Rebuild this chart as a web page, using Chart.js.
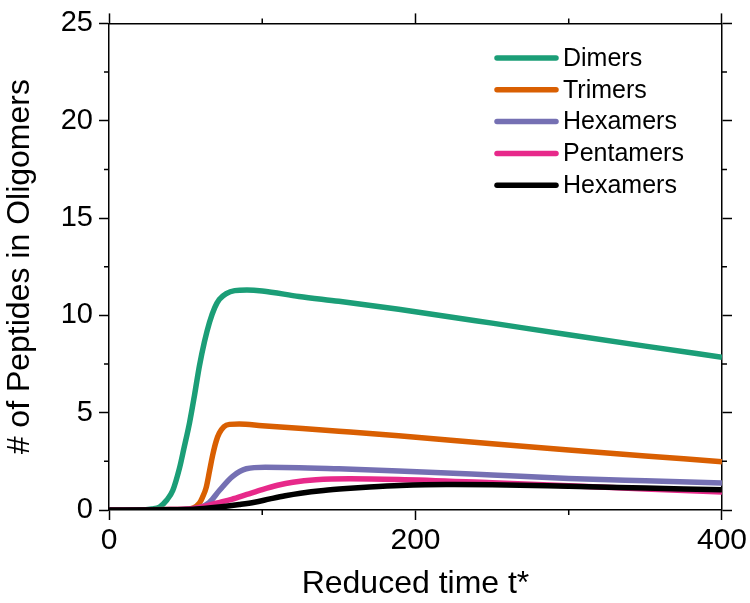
<!DOCTYPE html>
<html>
<head>
<meta charset="utf-8">
<script src="https://cdn.jsdelivr.net/npm/chart.js@4.4.1/dist/chart.umd.min.js"></script>
<style>
  html, body { margin: 0; padding: 0; background: #fff; }
  #wrap { width: 750px; height: 603px; }
</style>
</head>
<body>
<div id="wrap"><canvas id="chart" width="750" height="603"></canvas></div>
<script>
// series (t*, count)
var dimersT  = [0, 20, 28, 33, 37.6, 41.6, 46, 49, 52.6, 55.8, 59, 62.3, 65.6, 69, 72, 76.5, 82, 90, 100, 124, 150, 189, 250, 300, 350, 400];
var dimersY  = [0, 0, 0.05, 0.15, 0.5, 1.0, 2.15, 3.2, 4.5, 5.9, 7.4, 8.65, 9.65, 10.4, 10.82, 11.12, 11.27, 11.3, 11.25, 10.97, 10.72, 10.31, 9.6, 9.0, 8.42, 7.85];
var trimersT = [0, 40, 50, 55, 59, 61, 63.4, 65.6, 67.6, 70, 72, 75, 78.6, 85, 100, 150, 189, 250, 300, 350, 400];
var trimersY = [0, 0.02, 0.04, 0.1, 0.35, 0.65, 1.15, 2.0, 2.8, 3.55, 3.95, 4.28, 4.4, 4.42, 4.33, 4.05, 3.82, 3.4, 3.08, 2.78, 2.48];
var hexT     = [0, 40, 55, 60, 65.6, 72, 80.5, 89.6, 102, 150, 189, 250, 300, 350, 400];
var hexY     = [0, 0.02, 0.07, 0.15, 0.4, 1.0, 1.72, 2.12, 2.2, 2.12, 2.01, 1.8, 1.62, 1.5, 1.39];
var pentT    = [0, 40, 55, 62, 70, 80, 90, 100, 110, 120, 135, 157, 189, 250, 300, 350, 400];
var pentY    = [0, 0.02, 0.08, 0.18, 0.35, 0.55, 0.8, 1.05, 1.27, 1.43, 1.56, 1.61, 1.57, 1.4, 1.25, 1.08, 0.92];
var hex2T    = [0, 40, 55, 65, 75, 85, 95, 105, 115, 125, 140, 155, 170, 190, 220, 250, 300, 350, 400];
var hex2Y    = [0, 0.01, 0.04, 0.1, 0.18, 0.28, 0.4, 0.57, 0.73, 0.86, 1.0, 1.1, 1.18, 1.26, 1.31, 1.3, 1.22, 1.13, 1.04];

var seriesNames  = ['Dimers', 'Trimers', 'Hexamers', 'Pentamers', 'Hexamers'];
var seriesColors = ['#1b9e77', '#d95f02', '#7570b3', '#e7298a', '#000000'];

var xTicks = [0, 200, 400];
var xMinor = [100, 300];
var yTicks = [0, 5, 10, 15, 20, 25];
var yMinor = [2.5, 7.5, 12.5, 17.5, 22.5];

var FONT = '"Liberation Sans", Arial, Helvetica, sans-serif';

function pts(xs, ys) {
    var out = [];
    for (var i = 0; i < xs.length; i++) {
        out.push({x: xs[i], y: ys[i]});
    }
    return out;
}

var allSeries = [[dimersT, dimersY], [trimersT, trimersY], [hexT, hexY], [pentT, pentY], [hex2T, hex2Y]];
var datasets = allSeries.map(function (s, i) {
    return {
        label: seriesNames[i],
        data: pts(s[0], s[1]),
        borderColor: seriesColors[i],
        backgroundColor: seriesColors[i],
        borderWidth: 5.5,
        pointRadius: 0,
        fill: false,
        cubicInterpolationMode: 'monotone',
        order: allSeries.length - 1 - i
    };
});

// short minor ticks, all four sides
var minorTicks = {
    id: 'minorTicks',
    afterDraw: function (chart) {
        var ctx = chart.ctx, a = chart.chartArea;
        var xs = chart.scales.x, ys = chart.scales.y;
        ctx.save();
        ctx.strokeStyle = '#000';
        ctx.lineWidth = 1.5;
        ctx.beginPath();
        xMinor.forEach(function (v) {
            var px = xs.getPixelForValue(v);
            ctx.moveTo(px, a.bottom); ctx.lineTo(px, a.bottom + 5);
            ctx.moveTo(px, a.top); ctx.lineTo(px, a.top - 5);
        });
        yMinor.forEach(function (v) {
            var py = ys.getPixelForValue(v);
            ctx.moveTo(a.left, py); ctx.lineTo(a.left - 5, py);
            ctx.moveTo(a.right, py); ctx.lineTo(a.right + 5, py);
        });
        ctx.stroke();
        ctx.restore();
    }
};

// legend in the top right corner, line + label
var cornerLegend = {
    id: 'cornerLegend',
    afterDraw: function (chart) {
        var ctx = chart.ctx;
        ctx.save();
        ctx.font = '25px ' + FONT;
        ctx.textBaseline = 'middle';
        ctx.lineCap = 'round';
        chart.data.datasets.forEach(function (ds, i) {
            var y = 58 + i * 31.8;
            ctx.strokeStyle = ds.borderColor;
            ctx.lineWidth = 5.5;
            ctx.beginPath();
            ctx.moveTo(497, y); ctx.lineTo(556, y);
            ctx.stroke();
            ctx.fillStyle = '#000';
            ctx.fillText(ds.label, 563, y + 1);
        });
        ctx.restore();
    }
};

function fixed(size) {
    return function (scale) {
        if (scale.isHorizontal()) scale.height = size; else scale.width = size;
    };
}

function sideAxis(pos, min, max, size) {
    return {
        type: 'linear',
        position: pos,
        min: min, max: max,
        afterFit: fixed(size),
        afterBuildTicks: function (scale) {
            var list = pos === 'top' ? xTicks : yTicks;
            scale.ticks = list.map(function (v) { return {value: v}; });
        },
        border: {display: true, color: '#000', width: 1.5},
        grid: {drawOnChartArea: false, drawTicks: true, tickLength: 10, tickColor: '#000', tickWidth: 1.5},
        ticks: {display: false}
    };
}

new Chart(document.getElementById('chart'), {
    type: 'line',
    data: {datasets: datasets},
    options: {
        responsive: false,
        animation: false,
        layout: {padding: 0},
        plugins: {legend: {display: false}, tooltip: {enabled: false}},
        scales: {
            x: {
                type: 'linear',
                position: 'bottom',
                min: 0, max: 400,
                afterFit: fixed(93),
                afterBuildTicks: function (scale) {
                    scale.ticks = xTicks.map(function (v) { return {value: v}; });
                },
                border: {display: true, color: '#000', width: 1.5},
                grid: {drawOnChartArea: false, tickLength: 10, tickColor: '#000', tickWidth: 1.5},
                ticks: {color: '#000', font: {family: FONT, size: 30}, padding: 3, maxRotation: 0},
                title: {display: true, text: 'Reduced time t*', color: '#000', font: {family: FONT, size: 32}, padding: {top: 3, bottom: 0}}
            },
            y: {
                type: 'linear',
                position: 'left',
                min: 0, max: 25,
                afterFit: fixed(109),
                afterBuildTicks: function (scale) {
                    scale.ticks = yTicks.map(function (v) { return {value: v}; });
                },
                border: {display: true, color: '#000', width: 1.5},
                grid: {drawOnChartArea: false, tickLength: 10, tickColor: '#000', tickWidth: 1.5},
                ticks: {color: '#000', font: {family: FONT, size: 29}, padding: 6},
                title: {display: true, text: '# of Peptides in Oligomers', color: '#000', font: {family: FONT, size: 32}, padding: {top: 1, bottom: 0}}
            },
            x2: sideAxis('top', 0, 400, 13),
            y2: sideAxis('right', 0, 25, 25)
        }
    },
    plugins: [minorTicks, cornerLegend]
});
</script>
</body>
</html>
